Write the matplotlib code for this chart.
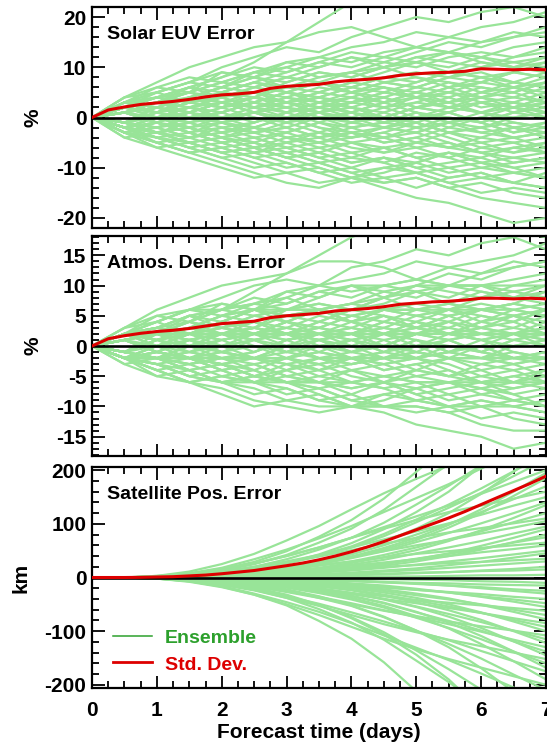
import matplotlib
matplotlib.use('Agg')
import matplotlib.pyplot as plt
from matplotlib.ticker import MultipleLocator

plt.rcParams['font.family'] = ['Liberation Sans', 'DejaVu Sans']
plt.rcParams['font.weight'] = 'bold'
plt.rcParams['axes.unicode_minus'] = False

# ---------------- data ----------------
T_ENS = [0, 0.5, 1, 1.5, 2, 2.5, 3, 3.5, 4, 4.5, 5, 5.5, 6, 6.5, 7]
T_SD = [0, 0.25, 0.5, 0.75, 1, 1.25, 1.5, 1.75, 2, 2.25, 2.5, 2.75, 3, 3.25, 3.5,
        3.75, 4, 4.25, 4.5, 4.75, 5, 5.25, 5.5, 5.75, 6, 6.25, 6.5, 6.75, 7]

euv_ensemble = [
    [0, 2, 4, 6, 8, 11, 15, 19, 23, 25, 24, 26, 25, 24, 23],
    [0, 3, 5, 7, 10, 12, 14, 13, 16, 18, 20, 19, 21, 22, 20],
    [0, 2, 3, 5, 9, 8, 11, 12, 14, 15, 17, 16, 18, 19, 21],
    [0, -1, 1, 4, 6, 9, 8, 10, 12, 11, 13, 15, 14, 16, 17],
    [0, 3, 4, 3, 5, 7, 6, 8, 9, 11, 10, 12, 13, 12, 14],
    [0, 1, 3, 6, 5, 4, 7, 9, 8, 10, 12, 11, 10, 12, 13],
    [0, 2, 1, 3, 4, 6, 5, 7, 6, 8, 9, 8, 10, 11, 10],
    [0, -2, 0, 2, 1, 3, 5, 4, 6, 5, 7, 9, 8, 9, 11],
    [0, 4, 6, 8, 7, 9, 10, 8, 9, 7, 8, 6, 7, 9, 8],
    [0, 1, -1, 1, 3, 2, 4, 6, 5, 7, 6, 5, 7, 6, 8],
    [0, 2, 4, 3, 2, 4, 3, 5, 4, 6, 5, 7, 6, 5, 7],
    [0, -1, 2, 1, 3, 1, 2, 4, 3, 2, 4, 3, 5, 4, 6],
    [0, 3, 2, 4, 3, 5, 4, 2, 3, 5, 4, 6, 4, 3, 5],
    [0, 1, 2, 0, 1, 3, 2, 1, 3, 4, 2, 3, 4, 2, 4],
    [0, -2, -1, 1, 0, 2, 1, 3, 2, 1, 3, 2, 1, 3, 2],
    [0, 2, 1, -1, 0, -2, 0, 1, -1, 0, 2, 1, 3, 2, 3],
    [0, -1, 0, 2, 3, 1, -1, 0, 1, -1, 0, 2, 1, 0, 1],
    [0, 1, -1, -2, 0, 1, 2, 0, -2, -1, 1, 0, -1, 1, 0],
    [0, -3, -2, 0, -1, -3, -2, 0, 1, -1, -2, 0, -1, -3, -1],
    [0, 2, 0, -1, -3, -2, -4, -3, -1, -2, -3, -1, -2, -1, -2],
    [0, -1, -3, -2, -1, 0, -2, -4, -3, -5, -4, -2, -3, -4, -3],
    [0, -2, -1, -3, -5, -4, -3, -5, -4, -3, -5, -6, -4, -5, -4],
    [0, 1, -1, -3, -2, -4, -6, -5, -3, -4, -6, -5, -7, -6, -5],
    [0, -3, -5, -4, -2, -3, -5, -4, -6, -7, -5, -6, -5, -7, -6],
    [0, -2, -4, -6, -5, -7, -6, -8, -7, -6, -8, -7, -9, -8, -7],
    [0, -1, -2, -4, -3, -5, -7, -6, -8, -9, -7, -8, -10, -9, -8],
    [0, -4, -3, -5, -7, -6, -8, -7, -9, -8, -10, -9, -8, -10, -9],
    [0, -2, -5, -7, -6, -8, -10, -9, -11, -10, -9, -11, -10, -11, -10],
    [0, -3, -4, -6, -8, -10, -9, -11, -10, -12, -11, -13, -12, -11, -12],
    [0, -1, -3, -2, -4, -6, -5, -7, -9, -8, -10, -12, -11, -13, -14],
    [0, -4, -6, -8, -10, -12, -11, -13, -12, -10, -11, -13, -15, -14, -15],
    [0, -2, -4, -5, -7, -9, -11, -10, -12, -14, -16, -17, -19, -21, -20],
    [0, -3, -5, -7, -9, -11, -13, -14, -12, -13, -12, -14, -16, -17, -18],
    [0, 2, 4, 5, 4, 6, 8, 7, 9, 10, 12, 13, 11, 10, 9],
    [0, 3, 5, 7, 9, 8, 10, 12, 11, 13, 14, 16, 15, 17, 16],
    [0, 1, 3, 5, 7, 6, 8, 7, 5, 6, 4, 5, 3, 4, 3],
    [0, -1, 1, 3, 2, 0, -1, 1, 3, 5, 4, 6, 8, 7, 6],
    [0, 2, 3, 1, -1, -3, -2, -4, -2, -1, 1, -1, -3, -2, -4],
    [0, -2, -3, -1, 1, 3, 5, 4, 2, 0, -2, -1, 1, -1, -2],
    [0, 3, 1, 2, 4, 2, 0, -2, -3, -5, -4, -6, -7, -9, -8],
    [0, -1, -2, 0, 2, 4, 3, 5, 7, 9, 11, 10, 12, 14, 15],
    [0, 1, 2, 4, 6, 5, 3, 1, -1, 0, -1, -3, -2, 0, 1],
    [0, -3, -6, -5, -4, -6, -8, -10, -12, -11, -9, -7, -8, -6, -7],
    [0, 4, 7, 10, 12, 14, 15, 17, 18, 16, 14, 13, 12, 11, 12],
    [0, -2, 0, -2, -4, -3, -1, 1, 0, 2, 3, 5, 4, 6, 5],
    [0, 1, 3, 2, 4, 5, 3, 4, 6, 8, 7, 9, 11, 10, 12],
    [0, -2, -4, -3, -1, -2, 0, 2, 1, 3, 5, 4, 2, 3, 1],
    [0, 3, 2, 0, 2, 4, 6, 5, 7, 6, 4, 2, 3, 1, 2],
    [0, -1, 1, 3, 5, 3, 1, 2, 0, -2, -1, -3, -5, -4, -6],
    [0, 2, 4, 6, 4, 2, 3, 1, 2, 4, 6, 8, 7, 9, 8],
    [0, -3, -1, -3, -5, -7, -5, -3, -4, -2, -3, -1, 0, -2, -1],
    [0, 1, 0, -2, -4, -6, -8, -7, -5, -6, -8, -10, -9, -11, -12],
    [0, 2, 3, 5, 3, 4, 2, 0, -1, 1, -1, 1, 3, 2, 4],
    [0, -2, -3, -5, -4, -2, -3, -1, -2, -4, -3, -5, -7, -8, -9],
    [0, 3, 6, 5, 7, 9, 11, 10, 12, 10, 11, 9, 8, 6, 7],
    [0, -1, -3, -5, -7, -6, -4, -5, -7, -9, -11, -10, -12, -13, -11],
    [0, 2, 1, 3, 5, 7, 9, 11, 10, 12, 11, 13, 12, 10, 11],
    [0, -2, -1, 1, -1, 1, 0, -2, -4, -3, -1, -3, -2, -4, -3],
    [0, 1, 2, 1, 3, 2, 4, 3, 1, 3, 5, 3, 1, 2, 0],
    [0, -3, -5, -7, -6, -8, -7, -9, -8, -6, -5, -3, -4, -2, -3],
    [0, 2, 0, 2, 1, -1, 1, 3, 5, 7, 6, 8, 9, 7, 6],
    [0, -1, -2, -1, -3, -2, -4, -6, -5, -7, -6, -8, -6, -7, -5],
    [0, 4, 5, 7, 6, 8, 6, 7, 5, 3, 4, 2, 4, 5, 3],
    [0, -2, 0, 1, 3, 1, 3, 2, 4, 3, 1, -1, 0, -2, -3],
    [0, 1, -1, -3, -5, -4, -6, -8, -10, -8, -9, -7, -9, -10, -12],
    [0, 3, 4, 6, 8, 10, 9, 11, 13, 12, 14, 13, 15, 16, 18],
    [0, -1, 1, 0, -2, -1, 1, 3, 2, 0, 2, 4, 6, 5, 7],
    [0, 2, 3, 2, 0, 1, -1, -3, -5, -4, -2, -4, -6, -5, -7],
    [0, -2, -3, -2, -4, -5, -7, -9, -11, -13, -12, -14, -13, -15, -16],
    [0, 1, 3, 4, 2, 3, 5, 7, 5, 4, 2, 3, 5, 7, 9],
    [0, -3, -2, -4, -3, -1, 1, -1, -3, -2, 0, -2, 0, 2, 1],
    [0, 2, 5, 3, 5, 7, 5, 3, 4, 2, 0, 1, -1, -3, -2],
    [0, -1, -3, -4, -6, -5, -3, -1, 1, 0, 2, 1, -1, 1, 3],
    [0, 3, 2, 4, 6, 8, 7, 9, 8, 10, 8, 7, 5, 6, 4],
    [0, -2, -4, -6, -8, -7, -9, -11, -13, -12, -14, -12, -11, -13, -14],
]
euv_std = [0, 1.5, 2.1, 2.6, 2.9, 3.2, 3.6, 4.1, 4.5, 4.7, 5.0, 5.8, 6.2, 6.4, 6.6,
           7.1, 7.4, 7.6, 7.9, 8.4, 8.7, 8.9, 9.0, 9.2, 9.7, 9.6, 9.5, 9.6, 9.5]

dens_ensemble = [
    [0, 2, 3, 5, 6, 9, 12, 15, 18, 20, 19, 21, 20, 19, 18],
    [0, 2, 4, 6, 8, 10, 11, 10, 13, 14, 16, 15, 17, 18, 16],
    [0, 2, 2, 4, 7, 6, 9, 10, 11, 12, 14, 13, 14, 15, 17],
    [0, -1, 1, 3, 5, 7, 6, 8, 10, 9, 10, 12, 11, 13, 14],
    [0, 2, 3, 2, 4, 6, 5, 6, 7, 9, 8, 10, 10, 10, 11],
    [0, 1, 2, 5, 4, 3, 6, 7, 6, 8, 10, 9, 8, 10, 10],
    [0, 2, 1, 2, 3, 5, 4, 6, 5, 6, 7, 6, 8, 9, 8],
    [0, -2, 0, 2, 1, 2, 4, 3, 5, 4, 6, 7, 6, 7, 9],
    [0, 3, 5, 6, 6, 7, 8, 6, 7, 6, 6, 5, 6, 7, 6],
    [0, 1, -1, 1, 2, 2, 3, 5, 4, 6, 5, 4, 6, 5, 6],
    [0, 2, 3, 2, 2, 3, 2, 4, 3, 5, 4, 6, 5, 4, 6],
    [0, -1, 2, 1, 2, 1, 2, 3, 2, 2, 3, 2, 4, 3, 5],
    [0, 2, 2, 3, 2, 4, 3, 2, 2, 4, 3, 5, 3, 2, 4],
    [0, 1, 2, 0, 1, 2, 2, 1, 2, 3, 2, 2, 3, 2, 3],
    [0, -2, -1, 1, 0, 2, 1, 2, 2, 1, 2, 2, 1, 2, 2],
    [0, 2, 1, -1, 0, -2, 0, 1, -1, 0, 2, 1, 2, 2, 2],
    [0, -1, 0, 2, 2, 1, -1, 0, 1, -1, 0, 2, 1, 0, 1],
    [0, 1, -1, -2, 0, 1, 2, 0, -2, -1, 1, 0, -1, 1, 0],
    [0, -2, -2, 0, -1, -2, -2, 0, 1, -1, -2, 0, -1, -2, -1],
    [0, 2, 0, -1, -2, -2, -3, -2, -1, -2, -2, -1, -2, -1, -2],
    [0, -1, -2, -2, -1, 0, -2, -3, -2, -4, -3, -2, -2, -3, -2],
    [0, -2, -1, -2, -4, -3, -2, -4, -3, -2, -4, -5, -3, -4, -3],
    [0, 1, -1, -2, -2, -3, -5, -4, -2, -3, -5, -4, -6, -5, -4],
    [0, -2, -4, -3, -2, -2, -4, -3, -5, -6, -4, -5, -4, -6, -5],
    [0, -2, -3, -5, -4, -6, -5, -6, -6, -5, -6, -6, -7, -6, -6],
    [0, -1, -2, -3, -2, -4, -6, -5, -6, -7, -6, -6, -8, -7, -6],
    [0, -3, -2, -4, -6, -5, -6, -6, -7, -6, -8, -7, -6, -8, -7],
    [0, -2, -4, -6, -5, -6, -8, -7, -9, -8, -7, -9, -8, -9, -8],
    [0, -2, -3, -5, -6, -8, -7, -9, -8, -10, -9, -10, -10, -9, -10],
    [0, -1, -2, -2, -3, -5, -4, -6, -7, -6, -8, -10, -9, -10, -11],
    [0, -3, -5, -6, -8, -10, -9, -10, -10, -8, -9, -10, -12, -11, -12],
    [0, -2, -3, -4, -6, -7, -9, -8, -10, -11, -13, -14, -15, -17, -16],
    [0, -2, -4, -6, -7, -9, -10, -11, -10, -10, -10, -11, -13, -14, -14],
    [0, 2, 3, 4, 3, 5, 6, 6, 7, 8, 10, 10, 9, 8, 7],
    [0, 2, 4, 6, 7, 6, 8, 10, 9, 10, 11, 13, 12, 14, 13],
    [0, 1, 2, 4, 6, 5, 6, 6, 4, 5, 3, 4, 2, 3, 2],
    [0, -1, 1, 2, 2, 0, -1, 1, 2, 4, 3, 5, 6, 6, 5],
    [0, 2, 2, 1, -1, -2, -2, -3, -2, -1, 1, -1, -2, -2, -3],
    [0, -2, -2, -1, 1, 2, 4, 3, 2, 0, -2, -1, 1, -1, -2],
    [0, 2, 1, 2, 3, 2, 0, -2, -2, -4, -3, -5, -6, -7, -6],
    [0, -1, -2, 0, 2, 3, 2, 4, 6, 7, 9, 8, 10, 11, 12],
    [0, 1, 2, 3, 5, 4, 2, 1, -1, 0, -1, -2, -2, 0, 1],
    [0, -2, -5, -4, -3, -5, -6, -8, -10, -9, -7, -6, -6, -5, -6],
    [0, 3, 6, 8, 10, 11, 12, 14, 14, 13, 11, 10, 10, 9, 10],
    [0, -2, 0, -2, -3, -2, -1, 1, 0, 2, 2, 4, 3, 5, 4],
    [0, 1, 2, 2, 3, 4, 2, 3, 5, 6, 6, 7, 9, 8, 10],
    [0, -2, -3, -2, -1, -2, 0, 2, 1, 2, 4, 3, 2, 2, 1],
    [0, 2, 2, 0, 2, 3, 5, 4, 6, 5, 3, 2, 2, 1, 2],
    [0, -1, 1, 2, 4, 2, 1, 2, 0, -2, -1, -2, -4, -3, -5],
    [0, 2, 3, 5, 3, 2, 2, 1, 2, 3, 5, 6, 6, 7, 6],
    [0, -2, -1, -2, -4, -6, -4, -2, -3, -2, -2, -1, 0, -2, -1],
    [0, 1, 0, -2, -3, -5, -6, -6, -4, -5, -6, -8, -7, -9, -10],
    [0, 2, 2, 4, 2, 3, 2, 0, -1, 1, -1, 1, 2, 2, 3],
    [0, -2, -2, -4, -3, -2, -2, -1, -2, -3, -2, -4, -6, -6, -7],
    [0, 2, 5, 4, 6, 7, 9, 8, 10, 8, 9, 7, 6, 5, 6],
    [0, -1, -2, -4, -6, -5, -3, -4, -6, -7, -9, -8, -10, -10, -9],
    [0, 2, 1, 2, 4, 6, 7, 9, 8, 10, 9, 10, 10, 8, 9],
    [0, -2, -1, 1, -1, 1, 0, -2, -3, -2, -1, -2, -2, -3, -2],
    [0, 1, 2, 1, 2, 2, 3, 2, 1, 2, 4, 2, 1, 2, 0],
    [0, -2, -4, -6, -5, -6, -6, -7, -6, -5, -4, -2, -3, -2, -2],
    [0, 2, 0, 2, 1, -1, 1, 2, 4, 6, 5, 6, 7, 6, 5],
    [0, -1, -2, -1, -2, -2, -3, -5, -4, -6, -5, -6, -5, -6, -4],
    [0, 3, 4, 6, 5, 6, 5, 6, 4, 2, 3, 2, 3, 4, 2],
    [0, -2, 0, 1, 2, 1, 2, 2, 3, 2, 1, -1, 0, -2, -2],
    [0, 1, -1, -2, -4, -3, -5, -6, -8, -6, -7, -6, -7, -8, -10],
    [0, 2, 3, 5, 6, 8, 7, 9, 10, 10, 11, 10, 12, 13, 14],
    [0, -1, 1, 0, -2, -1, 1, 2, 2, 0, 2, 3, 5, 4, 6],
    [0, 2, 2, 2, 0, 1, -1, -2, -4, -3, -2, -3, -5, -4, -6],
    [0, -2, -2, -2, -3, -4, -6, -7, -9, -10, -10, -11, -10, -12, -13],
    [0, 1, 2, 3, 2, 2, 4, 6, 4, 3, 2, 2, 4, 6, 7],
    [0, -2, -2, -3, -2, -1, 1, -1, -2, -2, 0, -2, 0, 2, 1],
    [0, 2, 4, 2, 4, 6, 4, 2, 3, 2, 0, 1, -1, -2, -2],
    [0, -1, -2, -3, -5, -4, -2, -1, 1, 0, 2, 1, -1, 1, 2],
    [0, 2, 2, 3, 5, 6, 6, 7, 6, 8, 6, 6, 4, 5, 3],
    [0, -2, -3, -5, -6, -6, -7, -9, -10, -10, -11, -10, -9, -10, -11],
]
dens_std = [0, 1.2, 1.7, 2.1, 2.4, 2.6, 2.9, 3.3, 3.7, 3.9, 4.1, 4.7, 5.0, 5.2, 5.4,
            5.8, 6.0, 6.2, 6.5, 6.9, 7.1, 7.3, 7.4, 7.6, 7.9, 7.9, 7.8, 7.9, 7.8]

pos_ensemble = [
    [0, 0, 2, 7, 16, 29, 49, 76, 107, 147, 197, 248, 302, 361, 420],
    [0, 0, 2, 6, 13, 25, 42, 65, 91, 126, 169, 212, 259, 310, 360],
    [0, 0, 1, 3, 8, 16, 27, 43, 64, 90, 122, 160, 208, 262, 320],
    [0, 0, 1, 5, 11, 20, 34, 52, 74, 102, 136, 171, 209, 249, 290],
    [0, 0, 3, 8, 18, 34, 52, 73, 96, 122, 148, 174, 203, 231, 260],
    [0, 0, 1, 2, 6, 12, 20, 32, 48, 67, 91, 120, 156, 197, 240],
    [0, 0, 1, 4, 8, 15, 26, 40, 56, 77, 103, 130, 158, 189, 220],
    [0, 0, 2, 6, 14, 26, 40, 56, 74, 94, 114, 134, 156, 178, 200],
    [0, 0, 1, 2, 5, 9, 16, 25, 37, 52, 70, 93, 120, 152, 185],
    [0, 0, 1, 3, 6, 12, 20, 31, 43, 60, 80, 100, 122, 146, 170],
    [0, 0, 2, 5, 11, 20, 30, 42, 56, 71, 86, 101, 117, 134, 150],
    [0, 0, 0, 1, 3, 7, 11, 18, 27, 38, 51, 68, 88, 111, 135],
    [0, 0, 1, 2, 4, 8, 14, 22, 30, 42, 56, 71, 86, 103, 120],
    [0, 0, 1, 3, 7, 14, 21, 29, 39, 49, 60, 70, 82, 93, 105],
    [0, 0, 0, 1, 2, 5, 8, 12, 18, 25, 34, 45, 59, 74, 90],
    [0, 0, 0, 1, 3, 5, 9, 14, 19, 26, 35, 44, 54, 65, 75],
    [0, 0, 1, 2, 4, 8, 12, 17, 22, 28, 34, 40, 47, 53, 60],
    [0, 0, 0, 0, 1, 2, 4, 6, 9, 13, 17, 23, 29, 37, 45],
    [0, 0, 0, 0, 1, 2, 3, 5, 8, 11, 14, 18, 22, 26, 30],
    [0, 0, 0, 0, 1, 2, 3, 4, 6, 7, 9, 10, 12, 13, 15],
    [0, 0, 0, 0, 0, -1, -1, -1, -2, -3, -4, -5, -7, -8, -10],
    [0, 0, 0, 0, -1, -2, -3, -5, -6, -9, -12, -15, -18, -22, -25],
    [0, 0, 0, -1, -3, -5, -8, -11, -15, -19, -23, -27, -31, -36, -40],
    [0, 0, 0, -1, -1, -3, -5, -7, -11, -15, -21, -28, -36, -45, -55],
    [0, 0, 0, -1, -3, -5, -8, -13, -18, -25, -33, -41, -50, -60, -70],
    [0, 0, -1, -3, -6, -11, -17, -24, -31, -40, -48, -57, -66, -76, -85],
    [0, 0, 0, -1, -3, -5, -9, -14, -20, -28, -38, -50, -65, -82, -100],
    [0, 0, -1, -2, -4, -8, -13, -21, -29, -40, -54, -68, -83, -99, -115],
    [0, 0, -1, -4, -9, -17, -26, -36, -48, -61, -74, -87, -101, -116, -130],
    [0, 0, 0, -1, -4, -7, -12, -20, -29, -41, -55, -73, -94, -119, -145],
    [0, 0, -1, -3, -6, -11, -19, -29, -41, -56, -75, -94, -115, -138, -160],
    [0, 0, -2, -5, -12, -23, -35, -49, -65, -82, -100, -117, -137, -156, -175],
    [0, 0, -1, -2, -5, -10, -16, -26, -38, -53, -72, -95, -124, -156, -190],
    [0, 0, -1, -3, -8, -15, -24, -38, -53, -74, -99, -124, -151, -181, -210],
    [0, 0, -2, -7, -16, -30, -46, -64, -85, -108, -131, -154, -179, -205, -230],
    [0, 0, -1, -3, -7, -13, -22, -35, -52, -73, -99, -130, -169, -213, -260],
    [0, 0, -1, -5, -11, -20, -34, -52, -74, -102, -136, -171, -209, -249, -290],
    [0, 0, -2, -5, -12, -23, -38, -59, -84, -116, -155, -195, -238, -284, -330],
    [0, 0, -1, -4, -10, -19, -32, -51, -76, -106, -144, -190, -247, -312, -380],
    [0, 0, -2, -7, -17, -32, -52, -81, -114, -158, -212, -266, -324, -387, -450],
    [0, 0, 3, 11, 25, 44, 69, 96, 127, 157, 184, 209, 231, 253, 275],
    [0, 0, 1, 4, 9, 16, 27, 41, 58, 81, 108, 136, 166, 198, 230],
    [0, 0, 1, 2, 5, 10, 17, 26, 39, 55, 74, 98, 127, 160, 195],
    [0, 0, 2, 6, 14, 26, 40, 56, 74, 91, 107, 122, 134, 147, 160],
    [0, 0, 1, 2, 5, 10, 16, 25, 36, 49, 66, 83, 101, 120, 140],
    [0, 0, 1, 4, 10, 18, 28, 39, 51, 63, 74, 84, 92, 101, 110],
    [0, 0, 0, 2, 4, 7, 11, 17, 24, 33, 45, 56, 68, 82, 95],
    [0, 0, 0, 1, 2, 4, 7, 11, 16, 22, 30, 40, 52, 66, 80],
    [0, 0, 1, 3, 6, 10, 16, 23, 30, 37, 44, 49, 55, 60, 65],
    [0, 0, 0, 1, 2, 4, 6, 9, 13, 18, 24, 30, 36, 43, 50],
    [0, 0, 0, 1, 3, 6, 9, 12, 16, 20, 23, 27, 29, 32, 35],
    [0, 0, 0, 0, 1, 1, 2, 3, 4, 6, 8, 10, 13, 16, 20],
    [0, 0, 0, 0, 0, 0, 1, 1, 1, 2, 2, 3, 4, 4, 5],
    [0, 0, 0, -1, -1, -2, -4, -5, -7, -9, -10, -11, -13, -14, -15],
    [0, 0, 0, 0, -1, -2, -3, -4, -6, -8, -11, -15, -20, -25, -30],
    [0, 0, 0, -1, -2, -3, -6, -9, -12, -17, -23, -28, -35, -41, -48],
    [0, 0, -1, -2, -6, -10, -16, -22, -29, -35, -42, -47, -52, -57, -62],
    [0, 0, 0, -1, -2, -4, -7, -11, -16, -22, -30, -39, -51, -64, -78],
    [0, 0, 0, -1, -3, -6, -11, -17, -23, -32, -43, -54, -66, -79, -92],
    [0, 0, -1, -4, -10, -17, -27, -38, -50, -62, -72, -82, -91, -99, -108],
    [0, 0, 0, -1, -3, -6, -10, -16, -24, -34, -46, -61, -79, -100, -122],
    [0, 0, -1, -2, -5, -10, -16, -25, -35, -48, -65, -81, -99, -119, -138],
    [0, 0, -2, -6, -14, -24, -38, -53, -70, -87, -102, -116, -128, -140, -152],
    [0, 0, -1, -2, -4, -8, -14, -23, -34, -47, -64, -84, -109, -138, -168],
    [0, 0, -2, -8, -18, -32, -50, -70, -92, -114, -134, -152, -168, -184, -200],
]
pos_std = [0, 0, 0, 0.3, 1, 1.5, 3, 4.5, 7, 10, 13, 17.5, 22, 27, 33,
           40, 48, 57, 67, 78, 89, 100, 111, 123, 136, 149, 162, 175, 189]

panel_titles = ['Solar EUV Error', 'Atmos. Dens. Error', 'Satellite Pos. Error']
y_labels = ['%', '%', 'km']
x_ticks = [0, 1, 2, 3, 4, 5, 6, 7]
x_label = 'Forecast time (days)'
legend_labels = ['Ensemble', 'Std. Dev.']

# ---------------- style ----------------
ENS_COLOR = '#98e498'
RED = '#dd0000'
LEG_GREEN = '#2ca02c'

W, H = 547, 744
fig = plt.figure(figsize=(W / 100, H / 100), dpi=100)


def frac_rect(top_px, bot_px, left_px=92, right_px=546):
    return [left_px / W, 1 - bot_px / H, (right_px - left_px) / W, (bot_px - top_px) / H]


rects = [frac_rect(7, 228), frac_rect(236, 456), frac_rect(467, 688)]
ylims = [(-22, 22), (-18.2, 18.2), (-206, 206)]
ymaj = [10, 5, 100]
ymin = [2, 1, 20]
ens_all = [euv_ensemble, dens_ensemble, pos_ensemble]
std_all = [euv_std, dens_std, pos_std]
ylab_x = [-0.130, -0.130, -0.156]

axes = []
for i in range(3):
    ax = fig.add_axes(rects[i])
    axes.append(ax)
    for member in ens_all[i]:
        ax.plot(T_ENS, member, color=ENS_COLOR, lw=1.6, zorder=2)
    ax.axhline(0, color='black', lw=1.9, zorder=3)
    ax.plot(T_SD, std_all[i], color=RED, lw=2.2, zorder=4)
    ax.set_xlim(0, 7)
    ax.set_ylim(*ylims[i])
    ax.xaxis.set_major_locator(MultipleLocator(1))
    ax.xaxis.set_minor_locator(MultipleLocator(0.25))
    ax.yaxis.set_major_locator(MultipleLocator(ymaj[i]))
    ax.yaxis.set_minor_locator(MultipleLocator(ymin[i]))
    ax.tick_params(which='both', direction='in', top=True, right=True, width=1.3,
                   labelsize=15)
    ax.tick_params(which='major', length=9)
    ax.tick_params(which='minor', length=5)
    ax.tick_params(axis='y', pad=4)
    ax.tick_params(axis='x', pad=9)
    for s in ax.spines.values():
        s.set_linewidth(1.6)
    if i < 2:
        ax.set_xticklabels([])
    else:
        ax.set_xticks(x_ticks)
    ax.text(0.033, 0.855, panel_titles[i], transform=ax.transAxes, fontsize=14,
            va='baseline', ha='left', zorder=6)
    ax.text(ylab_x[i], 0.5, y_labels[i], transform=ax.transAxes, fontsize=15,
            rotation=90, ha='center', va='center')

ax3 = axes[2]
ax3.text(0.5, -0.226, x_label, transform=ax3.transAxes, fontsize=15,
         ha='center', va='baseline')
# legend
ax3.plot([0.046, 0.132], [0.235, 0.235], transform=ax3.transAxes, color=LEG_GREEN, lw=1.1,
         zorder=6)
ax3.plot([0.046, 0.132], [0.117, 0.117], transform=ax3.transAxes, color=RED, lw=2.0,
         zorder=6)
ax3.text(0.161, 0.235, legend_labels[0], transform=ax3.transAxes, fontsize=14,
         color=LEG_GREEN, va='center_baseline', ha='left', zorder=6)
ax3.text(0.161, 0.112, legend_labels[1], transform=ax3.transAxes, fontsize=14,
         color=RED, va='center_baseline', ha='left', zorder=6)

fig.savefig('out.png', dpi=100)
